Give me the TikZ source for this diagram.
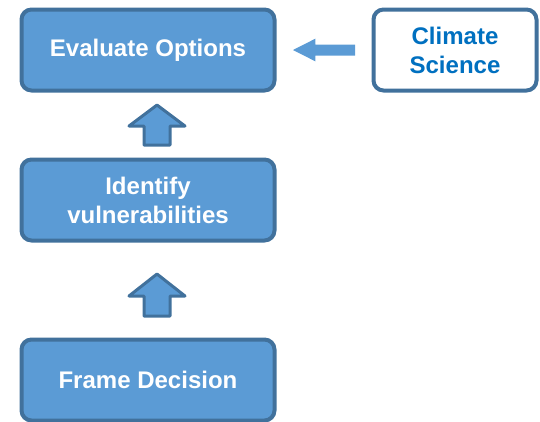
\documentclass[tikz,border=0pt]{standalone}
\usepackage{fontspec}
\setmainfont{Liberation Sans}
\usepackage{tikz}
\usetikzlibrary{calc}
\definecolor{boxfill}{HTML}{5B9BD5}
\definecolor{boxline}{HTML}{41719C}
\definecolor{sciblue}{HTML}{0070C0}
\tikzset{%
  base/.style = {rectangle, rounded corners=0.3cm, draw=boxline,
      line width=0.12cm, minimum width=7.59cm, minimum height=2.43cm,
      text centered, align=center,
      font=\bfseries\fontsize{20.5}{24.7}\selectfont},
  stage/.style = {base, fill=boxfill, text=white},
  source/.style = {base, fill=white, text=sciblue, minimum width=4.89cm},
  uparrow/.style = {fill=boxfill, draw=boxline, line width=0.09cm,
      line join=round},
  sidearrow/.style = {fill=boxfill},
}
\begin{document}
\begin{tikzpicture}[node distance=4.5cm]
  \useasboundingbox (0,0) rectangle (16.2,-12.63);
  % Specification of nodes (position, etc.)
  \node (eval)     [stage] at (4.44,-1.5)   {Evaluate Options};
  \node (identify) [stage, below of=eval]   {Identify\\vulnerabilities};
  \node (frame)    [stage, below of=identify, yshift=-0.9cm]
                                            {Frame Decision};
  \node (climate)  [source, right of=eval, xshift=4.71cm]
                                            {Climate\\Science};
  % Block arrows between the nodes
  \draw[uparrow] ($(identify.north)!0.5!(eval.south)$) ++(0.27,0.6)
     -- ++(0.84,-0.63) -- ++(-0.45,0) -- ++(0,-0.57) -- ++(-0.78,0)
     -- ++(0,0.57) -- ++(-0.45,0) -- cycle;
  \draw[uparrow] ($(frame.north)!0.5!(identify.south)$) ++(0.27,0.48)
     -- ++(0.84,-0.66) -- ++(-0.45,0) -- ++(0,-0.6) -- ++(-0.78,0)
     -- ++(0,0.6) -- ++(-0.45,0) -- cycle;
  \fill[sidearrow] ($(climate.west)!0.5!(eval.east)$) ++(-0.93,0)
     -- ++(0.67,0.34) -- ++(0,-0.175) -- ++(1.19,0) -- ++(0,-0.33)
     -- ++(-1.19,0) -- ++(0,-0.175) -- cycle;
\end{tikzpicture}
\end{document}
